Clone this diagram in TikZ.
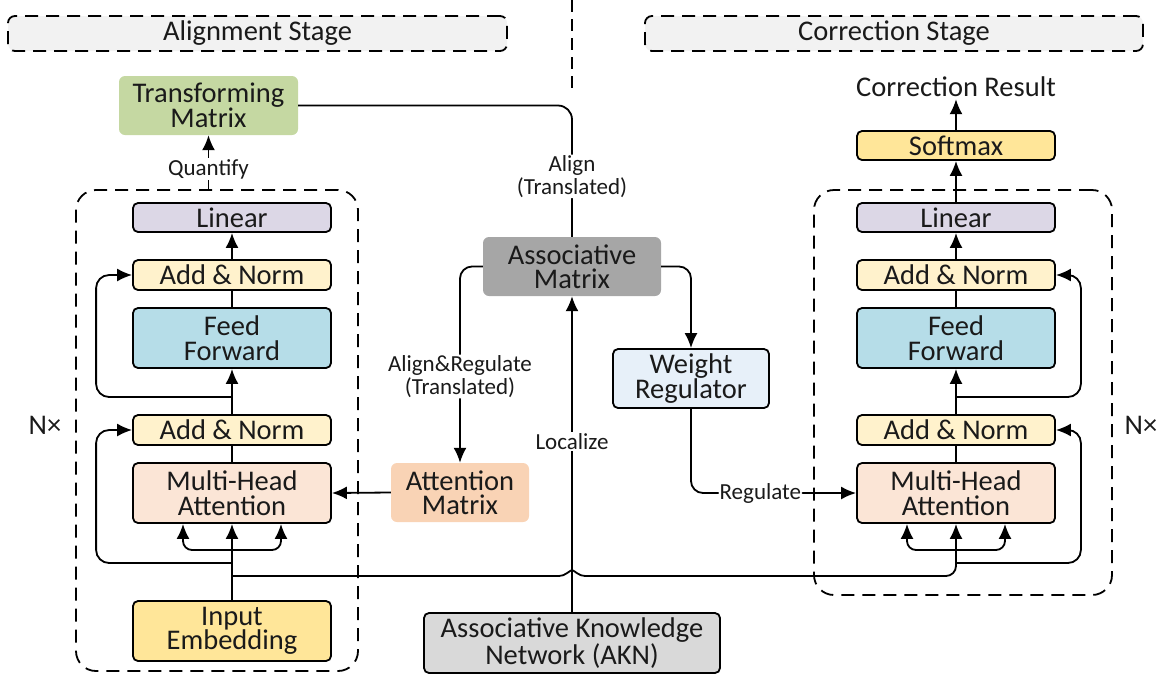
\documentclass[tikz,border=0pt]{standalone}
\usepackage{fontspec}
\setmainfont{Carlito}
\usetikzlibrary{arrows.meta,calc}
\definecolor{stagegray}{HTML}{F2F2F2}
\definecolor{tmgreen}{HTML}{C5D8A2}
\definecolor{lavender}{HTML}{DCD7E6}
\definecolor{anyellow}{HTML}{FFF2CC}
\definecolor{ffblue}{HTML}{B6DDE8}
\definecolor{mhapeach}{HTML}{FBE5D6}
\definecolor{iyellow}{HTML}{FFE699}
\definecolor{attpeach}{HTML}{F9D3B5}
\definecolor{amgray}{HTML}{A6A6A6}
\definecolor{wrblue}{HTML}{E7F0F9}
\definecolor{akngray}{HTML}{D9D9D9}
\definecolor{txt}{HTML}{1A1A1A}
\begin{document}
\begin{tikzpicture}[x=1pt,y=-1pt,
  mainfont/.style={font=\fontsize{28.5}{24.5}\selectfont},
  labfont/.style={font=\fontsize{23}{22.5}\selectfont},
  box/.style={draw=black, line width=1.8pt, rounded corners=5pt, inner sep=0pt, align=center, mainfont, text=txt},
  flat/.style={rounded corners=6pt, inner sep=0pt, align=center, mainfont, text=txt},
  colbox/.style={box, minimum width=198pt},
  dashbox/.style={draw=black, line width=1.8pt, dash pattern=on 13pt off 8pt, rounded corners=20pt, inner sep=0pt},
  stagebox/.style={draw=black, fill=stagegray, line width=1.8pt, dash pattern=on 13pt off 8pt, rounded corners=7pt, inner sep=0pt, mainfont, text=txt},
  conn/.style={draw=black, line width=1.8pt},
  arr/.style={-{Latex[length=15pt,width=13pt]}},
  lab/.style={labfont, fill=white, inner sep=1pt, text=txt, align=center},
]
\useasboundingbox (0,0) rectangle (1166,681);

% stage headers
\node[stagebox, minimum width=499pt, minimum height=35pt] (astage) at (257.5,33.5) {Alignment Stage};
\node[stagebox, minimum width=498pt, minimum height=35pt] (cstage) at (894,33.5) {Correction Stage};
\coordinate (vtop) at (572,0);
\coordinate (vbot) at (572,88);
\draw[line width=1.5pt, dash pattern=on 12pt off 7pt] (vtop) -- (vbot);

% dashed containers
\node[dashbox, minimum width=282pt, minimum height=481pt] (lbox) at (217,430.5) {};
\node[dashbox, minimum width=298pt, minimum height=405pt] (rbox) at (963,392.5) {};

% top left
\node[flat, fill=tmgreen, minimum width=179pt, minimum height=59pt] (tm) at (208.5,105.5) {Transforming\\Matrix};

% left column
\node[colbox, fill=lavender, minimum height=29pt] (lln) at (232,217.5) {Linear};
\node[colbox, fill=anyellow, minimum height=30pt] (lan2) at (232,275) {Add \& Norm};
\node[colbox, fill=ffblue, minimum height=60pt] (lff) at (232,338) {Feed\\Forward};
\node[colbox, fill=anyellow, minimum height=30pt] (lan1) at (232,430) {Add \& Norm};
\node[colbox, fill=mhapeach, minimum height=60pt] (lmha) at (232,493) {Multi-Head\\Attention};
\node[colbox, fill=iyellow, minimum height=60pt] (lie) at (232,631) {Input\\Embedding};

% right column
\node[mainfont, text=txt, inner sep=2pt] (res) at (956,87) {Correction Result};
\node[colbox, fill=iyellow, minimum height=29pt] (smax) at (956,145.5) {Softmax};
\node[colbox, fill=lavender, minimum height=29pt] (rln) at (956,217.5) {Linear};
\node[colbox, fill=anyellow, minimum height=30pt] (ran2) at (956,275) {Add \& Norm};
\node[colbox, fill=ffblue, minimum height=60pt] (rff) at (956,338) {Feed\\Forward};
\node[colbox, fill=anyellow, minimum height=30pt] (ran1) at (956,430) {Add \& Norm};
\node[colbox, fill=mhapeach, minimum height=60pt] (rmha) at (956,493) {Multi-Head\\Attention};

% middle
\node[flat, fill=amgray, minimum width=178pt, minimum height=59pt] (am) at (572,266.5) {Associative\\Matrix};
\node[flat, fill=attpeach, minimum width=138pt, minimum height=59pt] (attm) at (460,492.5) {Attention\\Matrix};
\node[box, fill=wrblue, minimum width=156pt, minimum height=59pt] (wr) at (691,378.5) {Weight\\Regulator};
\node[box, fill=akngray, minimum width=296pt, minimum height=60pt] (akn) at (572,643) {Associative Knowledge\\Network (AKN)};

% N x labels
\node[mainfont, text=txt] (nl) at (45,425) {N×};
\node[mainfont, text=txt] (nr) at (1141,425) {N×};

% left column connectors
\draw[conn,arr] (lie.north) -- (lmha.south);
\coordinate (lbr) at (232,550);
\draw[conn,arr,rounded corners=9pt] (lbr) -| ([xshift=-49pt]lmha.south);
\draw[conn,arr,rounded corners=9pt] (lbr) -| ([xshift=49pt]lmha.south);
\draw[conn] (lmha.north) -- (lan1.south);
\draw[conn,arr] (lan1.north) -- (lff.south);
\draw[conn] (lff.north) -- (lan2.south);
\draw[conn,arr] (lan2.north) -- (lln.south);
\coordinate (lres1) at (232,563);
\coordinate (lres2) at (232,397);
\draw[conn,arr,rounded corners=13pt] (lres1) -| ([xshift=-36pt]lan1.west) -- (lan1.west);
\draw[conn,arr,rounded corners=13pt] (lres2) -| ([xshift=-36pt]lan2.west) -- (lan2.west);
\draw[conn,arr] (lbox.north -| tm.south) -- node[lab,pos=0.37]{Quantify} (tm.south);

% crossing line with hop over the Localize line
\coordinate (cross) at (232,576);
\draw[conn,arr] (cross) -- (559,576) .. controls (565,576) and (569,571) .. (572,570) .. controls (575,571) and (579,576) .. (585,576) [rounded corners=10pt] -| (rmha.south);

% right column connectors
\coordinate (rbr) at (956,550);
\draw[conn,arr,rounded corners=9pt] (rbr) -| ([xshift=-49pt]rmha.south);
\draw[conn,arr,rounded corners=9pt] (rbr) -| ([xshift=49pt]rmha.south);
\draw[conn] (rmha.north) -- (ran1.south);
\draw[conn,arr] (ran1.north) -- (rff.south);
\draw[conn] (rff.north) -- (ran2.south);
\draw[conn,arr] (ran2.north) -- (rln.south);
\draw[conn,arr] (rln.north) -- (smax.south);
\draw[conn,arr] (smax.north) -- (res.south);
\coordinate (rres1) at (956,563);
\coordinate (rres2) at (956,397);
\draw[conn,arr,rounded corners=13pt] (rres1) -| ([xshift=25pt]ran1.east) -- (ran1.east);
\draw[conn,arr,rounded corners=13pt] (rres2) -| ([xshift=25pt]ran2.east) -- (ran2.east);

% middle connectors
\draw[conn,rounded corners=14pt] (tm.east) -| node[lab,pos=0.77]{Align\\(Translated)} (am.north);
\draw[conn,arr] (akn.north) -- node[lab,pos=0.54]{Localize} (am.south);
\draw[conn,arr,rounded corners=12pt] (am.west) -| node[lab,pos=0.78]{Align\&Regulate\\(Translated)} (attm.north);
\draw[conn,arr,rounded corners=12pt] (am.east) -| (wr.north);
\draw[conn,arr] (attm.west) -- (lmha.east);
\draw[conn,arr,rounded corners=12pt] (wr.south) |- node[lab,pos=0.71]{Regulate} (rmha.west);
\end{tikzpicture}
\end{document}
